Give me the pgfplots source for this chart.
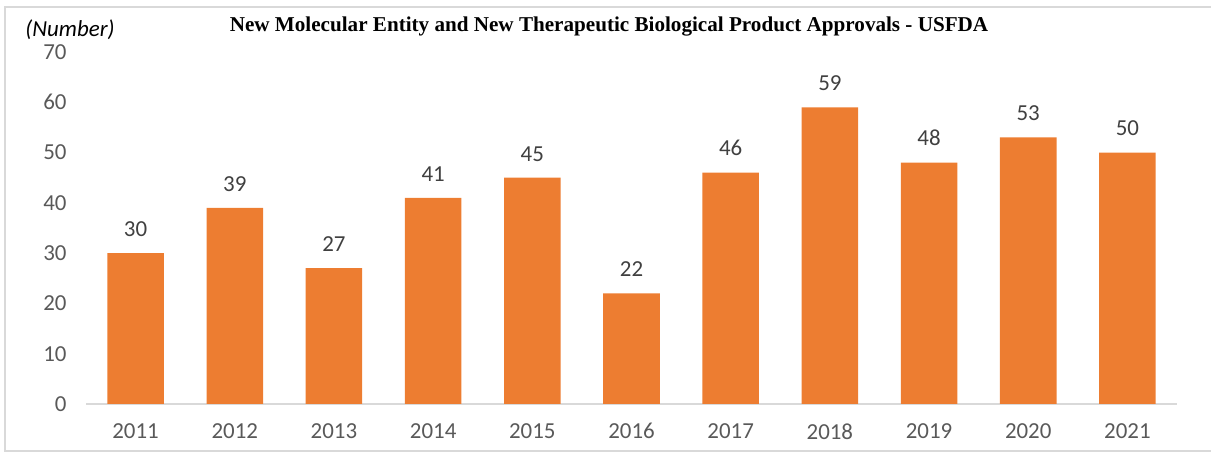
\documentclass[border=0pt]{standalone}
\usepackage{pgfplots}
\pgfplotsset{compat=1.18}
\usepackage{fontspec}
\setmainfont{Carlito}
\newfontfamily\titlefont{Liberation Serif}
\definecolor{barorange}{HTML}{ED7D31}
\definecolor{ticktext}{HTML}{595959}
\definecolor{labeltext}{HTML}{404040}
\definecolor{axisgray}{HTML}{D9D9D9}
\definecolor{framegray}{HTML}{D9D9D9}
\begin{document}
\begin{tikzpicture}[x=1bp,y=1bp]
\useasboundingbox (0,0) rectangle (1211,452);
\draw[framegray, line width=1.2bp] (1211,445) -- (5,445) -- (5,1) -- (1211,1);
\begin{axis}[
  at={(86bp,48bp)}, anchor=south west,
  scale only axis,
  width=1091bp, height=352bp,
  ymin=0, ymax=70,
  xmin=-0.5, xmax=10.5,
  ytick={0,10,...,70},
  xtick=data,
  xticklabels={2011,2012,2013,2014,2015,2016,2017,2018,2019,2020,2021},
  /pgf/number format/assume math mode=true,
  axis x line*=bottom,
  axis y line=none,
  hide y axis=false,
  axis line style={axisgray, line width=1.5bp},
  separate axis lines,
  y axis line style={draw=none},
  major tick length=0,
  tick style={draw=none},
  ticklabel style={font=\fontsize{23}{27}\selectfont, text=ticktext},
  yticklabel style={xshift=-16bp},
  xticklabel style={yshift=-16bp},
  ybar, bar width=0.57,
  nodes near coords,
  nodes near coords style={font=\fontsize{23}{27}\selectfont, text=labeltext, yshift=13bp},
  clip=false,
]
\addplot[fill=barorange, draw=none] coordinates {
(0,30) (1,39) (2,27) (3,41) (4,45) (5,22) (6,46) (7,59) (8,48) (9,53) (10,50)
};
\end{axis}
\node[font=\titlefont\bfseries\fontsize{21.2}{24}\selectfont] at (609,425.5) {New Molecular Entity and New Therapeutic Biological Product Approvals - USFDA};
\node[inner sep=0pt, font=\itshape\fontsize{23}{27}\selectfont, text=black] at (70,422) {(Number)};
\end{tikzpicture}
\end{document}
